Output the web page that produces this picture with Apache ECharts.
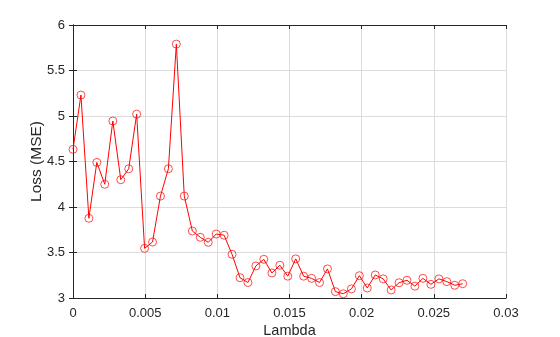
<!DOCTYPE html>
<html><head><meta charset="utf-8">
<script src="https://cdn.jsdelivr.net/npm/echarts@6/dist/echarts.min.js"></script>
<style>html,body{margin:0;padding:0;background:#fff}#c{width:560px;height:337px}</style>
</head><body><div id="c"></div>
<script>
const lambdas = [0, 0.00055, 0.0011, 0.00165, 0.0022, 0.00276, 0.00331, 0.00386, 0.00441, 0.00496,
  0.00551, 0.00606, 0.00661, 0.00716, 0.00771, 0.00827, 0.00882, 0.00937, 0.00992, 0.01047,
  0.01102, 0.01157, 0.01212, 0.01267, 0.01322, 0.01378, 0.01433, 0.01488, 0.01543, 0.01598,
  0.01653, 0.01708, 0.01763, 0.01818, 0.01873, 0.01929, 0.01984, 0.02039, 0.02094, 0.02149,
  0.02204, 0.02259, 0.02314, 0.02369, 0.02424, 0.0248, 0.02535, 0.0259, 0.02645, 0.027];
const loss = [4.634, 5.23, 3.876, 4.49, 4.25, 4.945, 4.30, 4.42, 5.02, 3.546,
  3.615, 4.12, 4.42, 5.79, 4.12, 3.736, 3.667, 3.612, 3.703, 3.69,
  3.48, 3.223, 3.17, 3.352, 3.425, 3.275, 3.36, 3.24, 3.43, 3.24,
  3.216, 3.17, 3.32, 3.07, 3.047, 3.10, 3.245, 3.11, 3.253, 3.21,
  3.088, 3.168, 3.195, 3.13, 3.216, 3.15, 3.21, 3.18, 3.14, 3.157];
const xTitle = 'Lambda';
const yTitle = 'Loss (MSE)';

const chart = echarts.init(document.getElementById('c'), null, {renderer: 'canvas'});
const font = 'Liberation Sans, Arial, sans-serif';
const axisLine = {show: true, lineStyle: {color: '#262626', width: 1}};
const tickIn = {show: true, inside: true, length: 4, lineStyle: {color: '#262626'}};
chart.setOption({
  animation: false,
  grid: {left: 73, right: 54, top: 25, bottom: 39, containLabel: false, outerBoundsMode: 'none'},
  xAxis: [{
    type: 'value', min: 0, max: 0.03, interval: 0.005,
    name: xTitle, nameLocation: 'middle', nameGap: 25, nameMoveOverlap: false,
    nameTextStyle: {fontFamily: font, fontSize: 14.5, color: '#262626'},
    axisLine: axisLine, axisTick: tickIn,
    axisLabel: {fontFamily: font, fontSize: 13, color: '#262626', margin: 9},
    splitLine: {show: true, lineStyle: {color: '#dcdcdc', width: 1}}
  }, {
    type: 'value', min: 0, max: 0.03, interval: 0.005, position: 'top',
    axisLine: axisLine, axisTick: tickIn, axisLabel: {show: false}, splitLine: {show: false}
  }],
  yAxis: [{
    type: 'value', min: 3, max: 6, interval: 0.5,
    name: yTitle, nameLocation: 'middle', nameGap: 28, nameMoveOverlap: false,
    nameTextStyle: {fontFamily: font, fontSize: 15.5, color: '#262626'},
    axisLine: axisLine, axisTick: tickIn,
    axisLabel: {fontFamily: font, fontSize: 13, color: '#262626', margin: 8},
    splitLine: {show: true, lineStyle: {color: '#dcdcdc', width: 1}}
  }, {
    type: 'value', min: 3, max: 6, interval: 0.5, position: 'right',
    axisLine: axisLine, axisTick: tickIn, axisLabel: {show: false}, splitLine: {show: false}
  }],
  series: [{
    type: 'line',
    data: lambdas.map((x, i) => [x, loss[i]]),
    symbol: 'circle', symbolSize: 8, showAllSymbol: true,
    lineStyle: {color: '#ff0000', width: 1},
    itemStyle: {color: 'rgba(255,255,255,0)', borderColor: 'rgba(255,0,0,0.7)', borderWidth: 1},
    z: 5
  }]
});
</script></body></html>
